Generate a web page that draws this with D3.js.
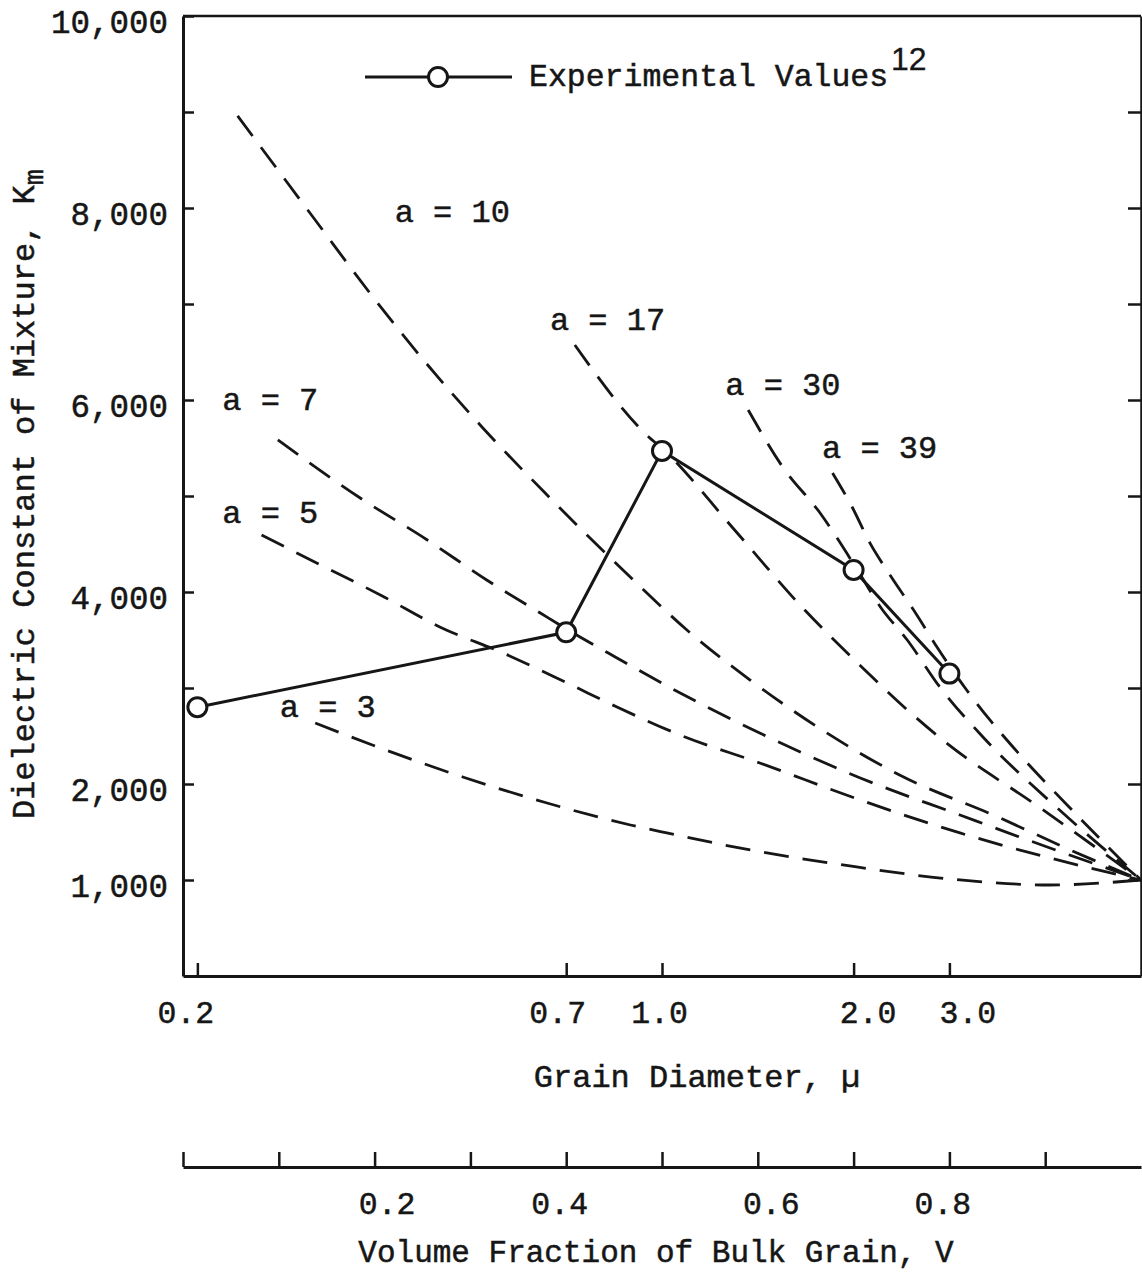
<!DOCTYPE html>
<html>
<head>
<meta charset="utf-8">
<script src="https://cdn.jsdelivr.net/npm/d3@7"></script>
<style>
  body { margin: 0; background: #fff; }
  text { font-family: "Liberation Mono", "DejaVu Sans Mono", monospace; fill: #161616; stroke: #161616; stroke-width: 0.5px; }
</style>
</head>
<body>
<svg id="chart" width="1142" height="1287"></svg>
<script>
// Km of mixture vs volume fraction V of bulk grain
let grainDiam = ["0.2", "0.7", "1.0", "2.0", "3.0"];
let expV = [0.015, 0.4, 0.5, 0.7, 0.8];
let expK = [2800, 3580, 5470, 4230, 3150];

let a3V = [0.138, 0.206, 0.292, 0.380, 0.467, 0.505, 0.592, 0.696, 0.801, 0.905, 1.0];
let a3K = [2635, 2375, 2073, 1802, 1573, 1490, 1313, 1146, 1010, 948, 1000];
let a5V = [0.082, 0.150, 0.206, 0.268, 0.334, 0.401, 0.453, 0.519, 0.602, 0.707, 0.811, 0.905, 1.0];
let a5K = [4594, 4250, 3969, 3636, 3365, 3052, 2802, 2510, 2219, 1833, 1490, 1229, 1000];
let a7V = [0.099, 0.185, 0.255, 0.317, 0.373, 0.402, 0.453, 0.519, 0.602, 0.707, 0.811, 0.905, 1.0];
let a7K = [5584, 4979, 4542, 4125, 3781, 3604, 3313, 2948, 2531, 2063, 1677, 1333, 1000];
let a10V = [0.057, 0.138, 0.195, 0.251, 0.313, 0.380, 0.470, 0.526, 0.592, 0.664, 0.748, 0.853, 0.926, 1.0];
let a10K = [8959, 7875, 7115, 6417, 5709, 5011, 4125, 3604, 3083, 2583, 2094, 1646, 1313, 1000];
let a17V = [0.409, 0.484, 0.503, 0.574, 0.647, 0.701, 0.762, 0.793, 0.895, 1.0];
let a17K = [6573, 5636, 5469, 4667, 3833, 3292, 2719, 2458, 1750, 1000];
let a30V = [0.590, 0.626, 0.665, 0.704, 0.728, 0.756, 0.790, 0.835, 0.915, 1.0];
let a30K = [5896, 5302, 4823, 4229, 3844, 3500, 3010, 2490, 1729, 1000];
let a39V = [0.678, 0.699, 0.717, 0.738, 0.766, 0.787, 0.818, 0.844, 0.860, 0.936, 1.0];
let a39K = [5240, 4875, 4511, 4177, 3761, 3427, 2979, 2646, 2458, 1646, 1000];

let yTicks = [1000, 2000, 3000, 4000, 5000, 6000, 7000, 8000, 9000, 10000];
let yLabels = [1000, 2000, 4000, 6000, 8000, 10000];
let vTicks = [0, 0.1, 0.2, 0.3, 0.4, 0.5, 0.6, 0.7, 0.8, 0.9];
let vLabels = [0.2, 0.4, 0.6, 0.8];

const ink = "#161616";
const svg = d3.select("#chart");

const x = d3.scaleLinear().domain([0, 1]).range([183, 1141]);
const y = d3.scaleLinear().domain([0, 10000]).range([976, 16]);

function styleAxis(g, fs) {
  g.attr("font-family", null).attr("font-size", null);
  g.selectAll("path.domain").attr("stroke", ink).attr("stroke-width", 3);
  g.selectAll(".tick line").attr("stroke", ink).attr("stroke-width", 2.5);
  g.selectAll(".tick text").attr("fill", ink).style("font-size", fs + "px");
}

// top border
svg.append("line")
  .attr("x1", x(0)).attr("x2", x(1))
  .attr("y1", y(10000)).attr("y2", y(10000))
  .attr("stroke", ink).attr("stroke-width", 2.5);

// left axis
const gl = svg.append("g").attr("transform", `translate(${x(0)},0)`)
  .call(d3.axisLeft(y).tickValues(yTicks).tickSize(-11).tickSizeOuter(0).tickPadding(15)
    .tickFormat(d => yLabels.includes(d) ? d3.format(",")(d) : ""));
styleAxis(gl, 32.5);
gl.selectAll(".tick text").attr("dy", "0.5em");

// right axis
const gr = svg.append("g").attr("transform", `translate(${x(1)},0)`)
  .call(d3.axisRight(y).tickValues(yTicks.slice(0, 9)).tickSize(-13).tickSizeOuter(0).tickFormat(""));
styleAxis(gr, 31);
gr.select("path.domain").attr("stroke-width", 2.5);

// grain diameter axis (bottom of plot); labels were typed a little off their ticks
const gdx = [-12, -9, -3, 14, 18];
const gb = svg.append("g").attr("transform", `translate(0,${y(0)})`)
  .call(d3.axisBottom(x).tickValues(expV).tickSize(-13).tickSizeOuter(0).tickPadding(25)
    .tickFormat((d, i) => grainDiam[i]));
styleAxis(gb, 31.5);
gb.selectAll(".tick text").attr("dx", (d, i) => gdx[i]);

// volume fraction axis
const vdx = { 0.2: 12, 0.4: -7, 0.6: 13, 0.8: -7 };
const gv = svg.append("g").attr("transform", "translate(0,1167)")
  .call(d3.axisBottom(x).tickValues(vTicks).tickSize(-15).tickSizeOuter(0).tickPadding(25)
    .tickFormat(d => vLabels.includes(d) ? d3.format(".1f")(d) : ""));
styleAxis(gv, 31.5);
gv.selectAll(".tick text").attr("dx", d => vdx[d] || 0);

// dashed curves
const curves = [
  { a: 3, v: a3V, k: a3K, lab: [0.101, 2698] },
  { a: 5, v: a5V, k: a5K, lab: [0.041, 4719] },
  { a: 7, v: a7V, k: a7K, lab: [0.041, 5896] },
  { a: 10, v: a10V, k: a10K, lab: [0.221, 7854] },
  { a: 17, v: a17V, k: a17K, lab: [0.383, 6729] },
  { a: 30, v: a30V, k: a30K, lab: [0.566, 6052] },
  { a: 39, v: a39V, k: a39K, lab: [0.667, 5396] }
];

const line = d3.line().x(d => x(d[0])).y(d => y(d[1])).curve(d3.curveMonotoneX);

svg.append("g").selectAll("path")
  .data(curves)
  .enter().append("path")
  .attr("d", c => line(c.v.map((v, i) => [v, c.k[i]])))
  .attr("fill", "none")
  .attr("stroke", ink)
  .attr("stroke-width", 2.8)
  .attr("stroke-dasharray", "25 14");

svg.append("g").selectAll("text")
  .data(curves)
  .enter().append("text")
  .attr("x", c => x(c.lab[0]))
  .attr("y", c => y(c.lab[1]))
  .style("font-size", "32px")
  .text(c => "a = " + c.a);

// experimental values
const expPts = expV.map((v, i) => [v, expK[i]]);
svg.append("path")
  .attr("d", d3.line().x(d => x(d[0])).y(d => y(d[1]))(expPts))
  .attr("fill", "none").attr("stroke", ink).attr("stroke-width", 3);
svg.append("g").selectAll("circle")
  .data(expPts)
  .enter().append("circle")
  .attr("cx", d => x(d[0])).attr("cy", d => y(d[1]))
  .attr("r", 9.5)
  .attr("fill", "#fff").attr("stroke", ink).attr("stroke-width", 3);

// legend
const lg = svg.append("g");
lg.append("line").attr("x1", 365).attr("x2", 512).attr("y1", 77).attr("y2", 77)
  .attr("stroke", ink).attr("stroke-width", 3);
lg.append("circle").attr("cx", 438).attr("cy", 77).attr("r", 9.5)
  .attr("fill", "#fff").attr("stroke", ink).attr("stroke-width", 3);
lg.append("text").attr("x", 529).attr("y", 86).style("font-size", "31.5px")
  .text("Experimental Values");
lg.append("text").attr("x", 891).attr("y", 70)
  .style("font-family", "'Liberation Sans', Arial, sans-serif").style("font-size", "32px")
  .style("stroke-width", "0.3px")
  .text("12");

// axis titles
svg.append("text").attr("x", 697).attr("y", 1087).attr("text-anchor", "middle")
  .style("font-size", "32px").text("Grain Diameter, \u00b5");
svg.append("text").attr("x", 656).attr("y", 1262).attr("text-anchor", "middle")
  .style("font-size", "31px").text("Volume Fraction of Bulk Grain, V");

const yt = svg.append("text")
  .attr("transform", "translate(34,494) rotate(-90)")
  .attr("text-anchor", "middle")
  .style("font-size", "32px");
yt.append("tspan").text("Dielectric Constant of Mixture, K");
yt.append("tspan").attr("dy", "0.35em").style("font-size", "27px").text("m");
</script>
</body>
</html>
